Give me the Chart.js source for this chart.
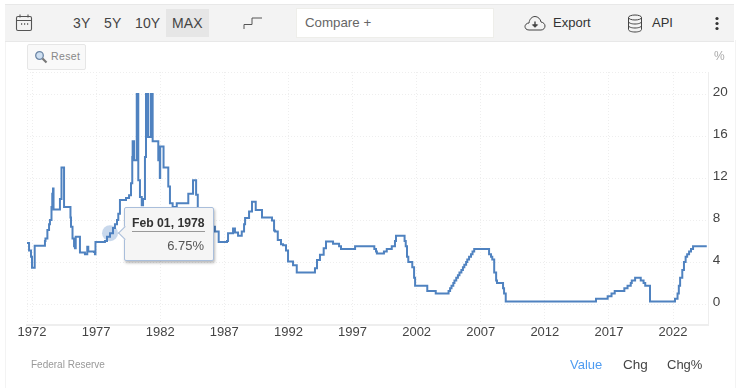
<!DOCTYPE html>
<html>
<head>
<meta charset="utf-8">
<script src="https://cdn.jsdelivr.net/npm/chart.js@4"></script>
<style>
html,body{margin:0;padding:0;background:#fff;width:743px;height:388px;overflow:hidden;font-family:"Liberation Sans",Arial,sans-serif}
#wrap{position:relative;width:743px;height:388px}
canvas{position:absolute;left:0;top:0}
.a{position:absolute;white-space:nowrap}
#bar{left:5px;top:4px;width:729px;height:36px;background:#f3f3f3;border:1px solid #e8e8e8;border-width:1px 0 1px 0}
.btn{font-size:14px;color:#444;top:15px;letter-spacing:.1px;line-height:16px}
#tip{position:absolute;box-sizing:border-box;background:#f5f5f5;border:1px solid #a9bedb;border-radius:2px;box-shadow:1px 2px 3px rgba(0,0,0,.28);z-index:5}
#tip .t{position:absolute;left:7px;top:8px;width:73px;font:bold 12.2px "Liberation Sans",Arial,sans-serif;color:#333;white-space:nowrap}
#tip .r{position:absolute;left:7px;right:8px;top:23px;border-top:1px solid #999}
#tip .v{position:absolute;right:9px;top:30px;font:13px "Liberation Sans",Arial,sans-serif;color:#555}
#tip .c{position:absolute;left:-5px;top:20px;width:9px;height:9px;background:#f5f5f5;border-left:1px solid #a9bedb;border-bottom:1px solid #a9bedb;transform:rotate(45deg)}
</style>
</head>
<body>
<div id="wrap">
  <div class="a" style="left:5px;top:40px;width:0;height:348px;border-left:1px solid #f3f3f3"></div>
  <div class="a" style="left:735px;top:40px;width:0;height:348px;border-left:1px solid #f3f3f3"></div>
  <canvas id="c" width="743" height="388"></canvas>
  <div class="a" id="bar"></div>
  <svg class="a" style="left:15px;top:13px" width="19" height="20" viewBox="0 0 19 20" fill="none" stroke="#555" stroke-width="1.1"><rect x="1.5" y="3.5" width="15" height="14" rx="1.5"/><path d="M1.5 7.5h15M5 1.5v3M13 1.5v3"/><path d="M6 11h1.2M9 11h1.2M12 11h1.2" stroke-width="1.4"/></svg>
  <div class="a" style="left:166px;top:9px;width:43px;height:28px;background:#e6e6e6"></div>
  <div class="a btn" style="left:73px">3Y</div>
  <div class="a btn" style="left:104px">5Y</div>
  <div class="a btn" style="left:135px">10Y</div>
  <div class="a btn" style="left:172px">MAX</div>
  <svg class="a" style="left:242px;top:15px" width="22" height="15" fill="none" stroke="#555" stroke-width="1"><path d="M2 14V9.5H10V3H20"/></svg>
  <div class="a" style="left:296px;top:8px;width:196px;height:28px;background:#fff;border:1px solid #eeeeea"></div>
  <div class="a btn" style="left:305px;color:#666;font-size:13.3px;letter-spacing:0">Compare +</div>
  <svg class="a" style="left:524px;top:15px" width="22" height="16" viewBox="0 0 22 16" fill="none" stroke="#444" stroke-width="1"><path d="M5 15C2 15 1 13 1 11.500S2.500 8 5 8C5.500 4 8 1.500 11 1.500S16.500 4 17 7C19.500 7.500 21 9 21 11S19.500 15 17 15Z"/><path d="M11 6.500V11.500" stroke-width="1.400"/><path d="M8.500 9.800H13.500L11 12.300Z" fill="#444"/></svg>
  <div class="a btn" style="left:553px;color:#333;letter-spacing:0;font-size:13px">Export</div>
  <svg class="a" style="left:627px;top:14px" width="16" height="19" viewBox="0 0 16 19" fill="none" stroke="#444" stroke-width="1"><ellipse cx="8" cy="3.500" rx="6.500" ry="2.500"/><path d="M1.500 3.500V15.500C1.500 17 4.500 18 8 18S14.500 17 14.500 15.500V3.500M1.500 7.500C1.500 9 4.500 10 8 10S14.500 9 14.500 7.500M1.500 11.500C1.500 13 4.500 14 8 14S14.500 13 14.500 11.500"/></svg>
  <div class="a btn" style="left:652px;color:#333;letter-spacing:0;font-size:13px">API</div>
  <svg class="a" style="left:714px;top:16px" width="6" height="15" fill="#333"><circle cx="3" cy="2.500" r="1.600"/><circle cx="3" cy="7.500" r="1.600"/><circle cx="3" cy="12.500" r="1.600"/></svg>
  <div class="a" style="left:27px;top:44px;width:57px;height:24px;background:#f9f9f9;border:1px solid #e6e6e6;border-radius:2px"></div>
  <svg class="a" style="left:34px;top:50px" width="14" height="14" fill="none"><circle cx="5.500" cy="5.500" r="3.800" fill="#cfe0f2" stroke="#6d87a6" stroke-width="1.300"/><path d="M8.500 8.500L12.500 12.500" stroke="#777" stroke-width="2.200"/></svg>
  <div class="a" style="left:51px;top:50px;font-size:10.5px;color:#888;letter-spacing:.4px">Reset</div>
  <div class="a" style="left:714px;top:49px;font-size:12px;color:#aaa">%</div>
  <div class="a" style="left:31px;top:359px;font-size:10px;color:#999">Federal Reserve</div>
  <div class="a" style="left:570px;top:357px;font-size:13px;color:#4f9cf0">Value</div>
  <div class="a" style="left:623px;top:357px;font-size:13.500px;color:#444">Chg</div>
  <div class="a" style="left:667px;top:357px;font-size:13px;color:#444">Chg%</div>
</div>
<script>
const rateYears = [
  1971.59,1971.77,1971.92,1972.0,1972.21,1973.01,1973.05,1973.2,1973.33,1973.4,1973.52,1973.58,1973.64,1973.68,
  1974.18,1974.3,1974.5,1975.0,1975.04,1975.16,1975.28,1975.35,1975.41,1975.74,1976.13,1976.31,1976.39,1976.84,1976.91,1976.95,
  1977.69,1977.85,1978.085,1978.32,1978.47,1978.63,1978.73,1978.86,1979.33,1979.57,1979.72,1979.82,1979.85,1979.96,
  1980.17,1980.29,1980.42,1980.56,1980.66,1980.81,1980.89,1981.05,1981.26,1981.41,1981.85,1981.97,1982.0,1982.26,
  1982.63,1982.76,1982.97,1983.29,1984.19,1984.56,1984.8,1984.93,1985.34,1985.73,1986.12,1986.27,1986.56,
  1987.21,1987.29,1987.68,1987.83,1988.07,1988.36,1988.54,1988.62,1988.93,1989.16,1989.45,1989.94,
  1990.72,1990.88,1990.96,1991.17,1991.42,1991.58,1991.81,1991.97,1992.36,1992.65,
  1994.07,1994.23,1994.46,1994.75,1994.93,1995.48,1995.95,1996.1,1997.2,1998.7,1998.83,1998.9,1999.45,1999.67,
  2000.06,2000.31,2000.39,2001.06,2001.15,2001.25,2001.35,2001.66,2001.8,2001.88,2002.83,2003.49,
  2004.49,2004.61,2004.72,2004.86,2004.95,2005.09,2005.22,2005.34,2005.49,2005.61,2005.72,2005.86,2005.95,2006.09,2006.24,2006.36,2006.49,
  2007.65,2007.8,2007.9,2008.05,2008.2,2008.27,2008.74,2008.82,2008.95,
  2015.99,2016.9,2017.2,2017.45,2018.2,2018.45,2018.7,2018.78,2019.04,2019.48,2019.7,2019.83,2020.2,
  2022.15,2022.35,2022.45,2022.55,2022.72,2022.85,2022.98,2023.1,2023.25,2023.4,2023.56,2024.63
];
const rateValues = [
  5.8,5.1,4.5,3.45,5.55,6,6.25,7.05,7.6,8,9.25,10.5,11,9,
  10,13,9.25,8.25,7.35,6.25,5.5,5.3,6.4,4.9,4.75,5.45,5,4.95,4.75,5.9,
  6,6.4,6.75,7.25,7.6,8,8.6,9.9,10.1,10.35,11.5,14,15.5,13.7,
  20,11.8,10.2,9.4,10,14,20,15.9,20,15.5,13.7,12,15,13,
  11.2,9.6,9.25,9.6,10.5,11.8,10.4,9.1,8.5,8,7.35,6.9,5.9,
  6,6.75,7.2,6.8,6.5,6.9,7.6,8.2,8.8,9.75,8.95,8.25,
  7.95,7,6.9,6.1,5.7,5.6,5.1,4.05,3.7,3,
  3.4,4.2,4.7,5.3,5.95,5.75,5.5,5.25,5.5,5.25,5,4.8,5,5.25,
  5.5,6,6.5,6,5.5,4.5,4,3.5,2.5,1.75,1.25,1,
  1.25,1.5,1.75,2,2.25,2.5,2.75,3,3.25,3.5,3.75,4,4.25,4.5,4.75,5,5.25,
  4.75,4.5,4.25,3,2.25,2,1.5,1,0.25,
  0.5,0.75,1,1.25,1.5,1.75,2,2.25,2.5,2.25,2,1.75,0.25,
  0.5,1,1.75,2.5,3.25,4,4.5,4.75,5,5.25,5.5,5.5
];
const xTickYears = [1972,1977,1982,1987,1992,1997,2002,2007,2012,2017,2022];
const yTickValues = [0,4,8,12,16,20];
const xRange = [1971.61,2024.78];
const yRange = [-2,22.1];
const tooltipYear = 1978.085;
const tooltipDate = "Feb 01, 1978";

function externalTip(ctx){
  const m = ctx.tooltip;
  let el = document.getElementById('tip');
  if(!el){
    el = document.createElement('div');el.id='tip';
    el.innerHTML='<div class="c"></div><div class="t"></div><div class="r"></div><div class="v"></div>';
    document.getElementById('wrap').appendChild(el);
  }
  if(!m.dataPoints||!m.dataPoints.length){el.style.display='none';return;}
  const p = m.dataPoints[0];
  el.style.display='block';
  el.style.left=(p.element.x+14)+'px';
  el.style.top=(p.element.y-26)+'px';
  el.style.width='90px';el.style.height='54px';
  el.querySelector('.t').textContent=tooltipDate;
  el.querySelector('.v').textContent=p.parsed.y.toFixed(2)+'%';
}

const chart = new Chart(document.getElementById('c'),{
  type:'line',
  data:{datasets:[{
    data:rateYears.map((x,i)=>({x:x,y:rateValues[i]})),
    borderColor:'#4f82c0',borderWidth:2,stepped:true,fill:false,
    pointRadius:0,pointHoverRadius:8,pointHitRadius:0,
    pointHoverBackgroundColor:'rgba(74,127,192,.3)',pointHoverBorderWidth:0,pointHoverBorderColor:'rgba(0,0,0,0)'
  }]},
  options:{
    responsive:false,animation:false,events:[],
    layout:{padding:{left:27,top:72,right:0,bottom:0}},
    plugins:{legend:{display:false},tooltip:{enabled:false,external:externalTip}},
    scales:{
      x:{
        type:'linear',min:xRange[0],max:xRange[1],
        afterBuildTicks:s=>{s.ticks=[xRange[0],...xTickYears].map(v=>({value:v}));},
        afterFit:s=>{s.height=63;},
        grid:{color:'#eeeeee',drawTicks:false,lineWidth:1},
        border:{color:'#eeeeee',width:2,dash:[1,2]},
        ticks:{
          autoSkip:false,maxRotation:0,padding:0,color:'#444',
          font:{family:'"Liberation Sans",Arial,sans-serif',size:13},
          callback:v=>xTickYears.includes(v)?String(v):''
        }
      },
      y:{
        position:'right',min:yRange[0],max:yRange[1],
        afterBuildTicks:s=>{s.ticks=[...yTickValues,yRange[1]].map(v=>({value:v}));},
        afterFit:s=>{s.width=34.3;},
        grid:{color:'#eeeeee',drawTicks:false,lineWidth:1},
        border:{color:'#eeeeee',width:1,dash:[1,2]},
        ticks:{
          autoSkip:false,padding:4,color:'#444',labelOffset:-1.5,
          font:{family:'"Liberation Sans",Arial,sans-serif',size:13.5},
          callback:v=>yTickValues.includes(v)?String(v):''
        }
      }
    }
  }
});
const tipIndex = rateYears.indexOf(tooltipYear);
chart.setActiveElements([{datasetIndex:0,index:tipIndex}]);
chart.tooltip.setActiveElements([{datasetIndex:0,index:tipIndex}],{x:0,y:0});
chart.update();
</script>
</body>
</html>
